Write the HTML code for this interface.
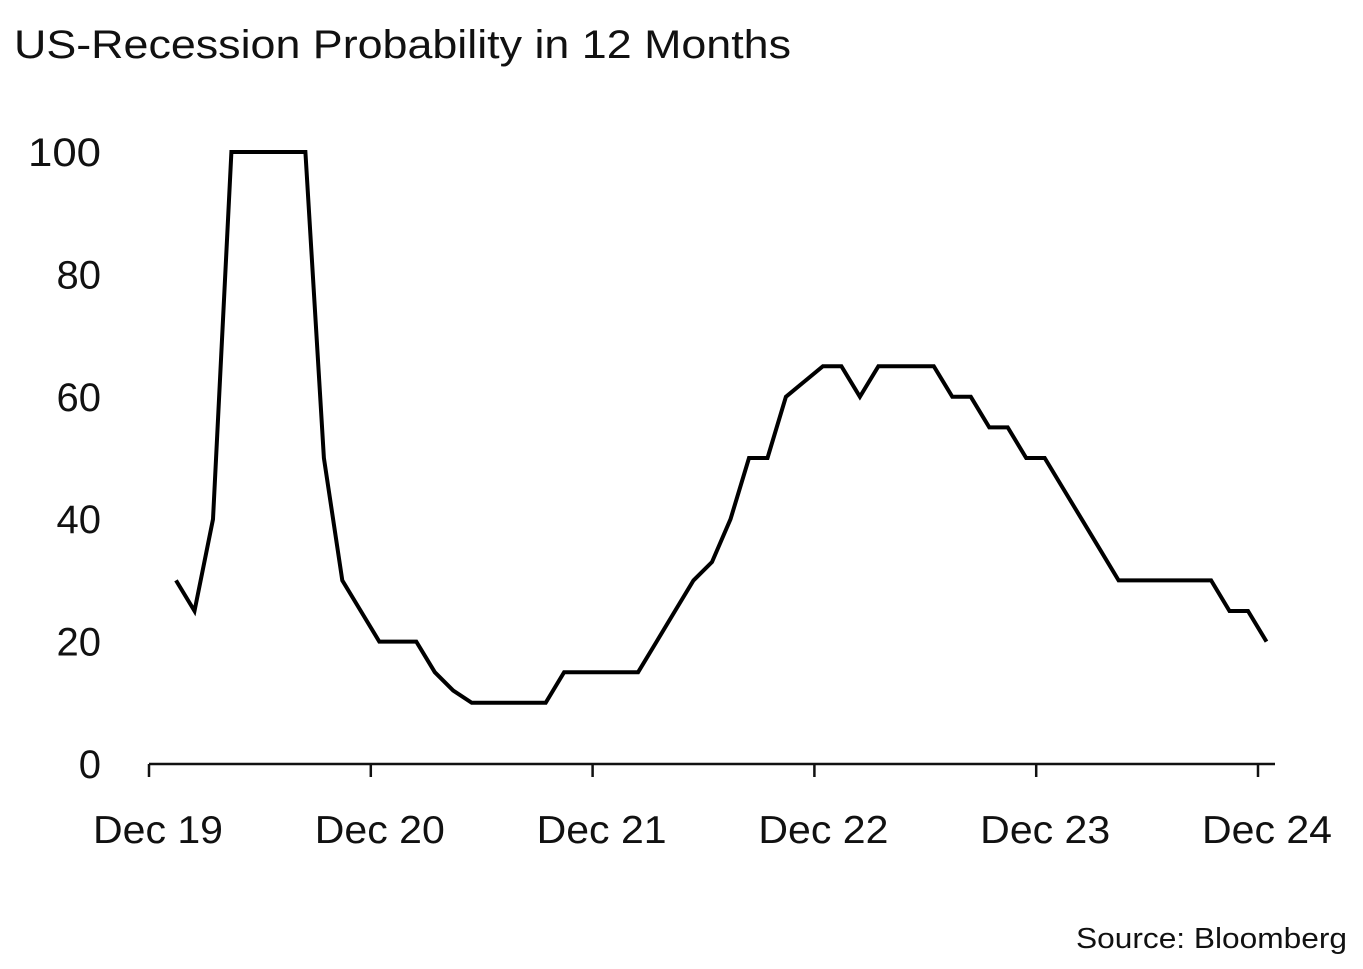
<!DOCTYPE html>
<html><head><meta charset="utf-8"><style>
html,body{margin:0;padding:0;background:#fff;}
svg{display:block;font-family:"Liberation Sans",sans-serif;}
</style></head><body>
<svg id="chart" width="1363" height="969" viewBox="0 0 1363 969">
<text x="14" y="58" font-size="40" fill="#111" textLength="777" lengthAdjust="spacingAndGlyphs">US-Recession Probability in 12 Months</text>
<text x="1347" y="948" font-size="29" fill="#111" text-anchor="end" textLength="271" lengthAdjust="spacingAndGlyphs">Source: Bloomberg</text>
<g id="yaxis"></g>
<g id="xaxis"></g>
<g id="series"></g>
</svg>
<script>
const yTicks=[0,20,40,60,80,100];
const xTickLabels=["Dec 19","Dec 20","Dec 21","Dec 22","Dec 23","Dec 24"];
const monthIndex=[1.46,2.46,3.46,4.46,5.46,6.46,7.46,8.46,9.46,10.46,11.46,12.46,13.46,14.46,15.46,16.46,17.46,18.46,19.46,20.46,21.46,22.46,23.46,24.46,25.46,26.46,27.46,28.46,29.46,30.46,31.46,32.46,33.46,34.46,35.46,36.46,37.46,38.46,39.46,40.46,41.46,42.46,43.46,44.46,45.46,46.46,47.46,48.46,49.46,50.46,51.46,52.46,53.46,54.46,55.46,56.46,57.46,58.46,59.46,60.46];
const probability=[30,25,40,100,100,100,100,100,50,30,25,20,20,20,15,12,10,10,10,10,10,15,15,15,15,15,20,25,30,33,40,50,50,60,62.5,65,65,60,65,65,65,65,60,60,55,55,50,50,45,40,35,30,30,30,30,30,30,25,25,20];
const NS="http://www.w3.org/2000/svg";
const x=m=>149+m*(1109/60);
const y=v=>764-v*6.12;
function mk(t,a,p){const e=document.createElementNS(NS,t);for(const k in a)e.setAttribute(k,a[k]);p.appendChild(e);return e;}
const ya=document.getElementById('yaxis');
yTicks.forEach(v=>{const t=mk('text',{x:101,y:y(v)+14,'font-size':40,fill:'#111','text-anchor':'end'},ya);t.textContent=v;
if(v===100){t.setAttribute('textLength','73');t.setAttribute('lengthAdjust','spacingAndGlyphs');}

});
const xa=document.getElementById('xaxis');
const ax=mk('line',{x1:149,x2:1275,y1:764,y2:764,stroke:'#111','stroke-width':2.5},xa);


xTickLabels.forEach((l,i)=>{const tx=x(i*12);
const tk=mk('line',{x1:tx,x2:tx,y1:764,y2:777,stroke:'#111','stroke-width':2.5},xa);


const t=mk('text',{x:tx+9,y:843,'font-size':39,fill:'#111','text-anchor':'middle',textLength:130,lengthAdjust:'spacingAndGlyphs'},xa);t.textContent=l;

});
const s=document.getElementById('series');
const d=monthIndex.map((m,i)=>(i?'L':'M')+x(m).toFixed(1)+' '+y(probability[i]).toFixed(1)).join(' ');
const p=mk('path',{d:d,fill:'none',stroke:'#000','stroke-width':4,'stroke-linejoin':'miter'},s);


</script>
</body></html>
